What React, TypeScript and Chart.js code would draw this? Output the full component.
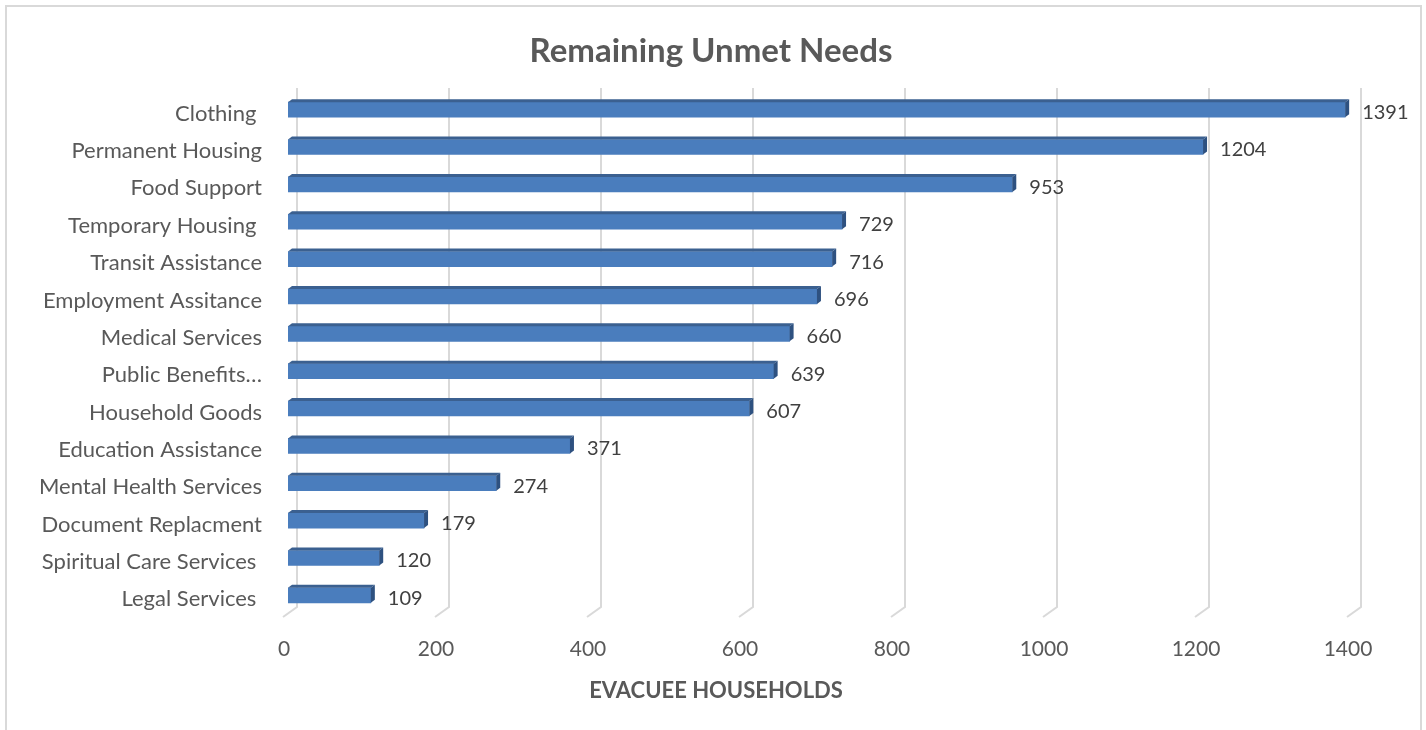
import React, { useEffect, useRef } from "react";
import { Chart, registerables } from "chart.js";

Chart.register(...registerables);

const categories = [
  "Clothing ",
  "Permanent Housing",
  "Food Support",
  "Temporary Housing ",
  "Transit Assistance",
  "Employment Assitance",
  "Medical Services",
  "Public Benefits…",
  "Household Goods",
  "Education Assistance",
  "Mental Health Services",
  "Document Replacment",
  "Spiritual Care Services ",
  "Legal Services ",
];
const values = [1391, 1204, 953, 729, 716, 696, 660, 639, 607, 371, 274, 179, 120, 109];
const xTickValues = [0, 200, 400, 600, 800, 1000, 1200, 1400];
const chartTitle = "Remaining Unmet Needs";
const xAxisTitle = "EVACUEE HOUSEHOLDS";

const FONT = "Lato, 'Open Sans', sans-serif";

const decorPlugin = {
  id: "decor",
  beforeDraw(chart: any) {
    const ctx = chart.ctx;
    ctx.save();
    ctx.fillStyle = "#ffffff";
    ctx.fillRect(0, 0, chart.width, chart.height);
    ctx.strokeStyle = "#d9d9d9";
    ctx.lineWidth = 2;
    ctx.strokeRect(6, 6, 1415, chart.height + 10);
    ctx.restore();
  },
  beforeDatasetsDraw(chart: any) {
    const ctx = chart.ctx;
    const xs = chart.scales.x;
    const area = chart.chartArea;
    ctx.save();
    ctx.strokeStyle = "#d9d9d9";
    ctx.lineWidth = 2;
    xTickValues.forEach((v) => {
      const px = xs.getPixelForValue(v);
      ctx.beginPath();
      ctx.moveTo(px + 9, area.top - 3);
      ctx.lineTo(px + 9, area.bottom - 7);
      ctx.lineTo(px - 5, area.bottom + 3);
      ctx.stroke();
    });
    ctx.restore();
  },
  afterDatasetsDraw(chart: any) {
    const ctx = chart.ctx;
    const meta = chart.getDatasetMeta(0);
    ctx.save();
    meta.data.forEach((bar: any, i: number) => {
      const x0 = bar.base;
      const x1 = bar.x;
      const top = bar.y - bar.height / 2;
      const bottom = bar.y + bar.height / 2;
      const dx = 4;
      const dy = 3;
      ctx.fillStyle = "#3b6090";
      ctx.beginPath();
      ctx.moveTo(x0, top);
      ctx.lineTo(x0 + dx, top - dy);
      ctx.lineTo(x1 + dx, top - dy);
      ctx.lineTo(x1, top);
      ctx.closePath();
      ctx.fill();
      ctx.fillStyle = "#2e5180";
      ctx.beginPath();
      ctx.moveTo(x1, top);
      ctx.lineTo(x1 + dx, top - dy);
      ctx.lineTo(x1 + dx, bottom - dy);
      ctx.lineTo(x1, bottom);
      ctx.closePath();
      ctx.fill();
      ctx.fillStyle = "#404040";
      ctx.font = `20px ${FONT}`;
      ctx.textAlign = "left";
      ctx.textBaseline = "middle";
      ctx.fillText(String(values[i]), x1 + 17, bar.y + 3);
    });
    ctx.restore();
  },
  afterDraw(chart: any) {
    const ctx = chart.ctx;
    ctx.save();
    ctx.fillStyle = "#595959";
    ctx.textAlign = "center";
    ctx.textBaseline = "middle";
    ctx.font = `bold 33px ${FONT}`;
    ctx.fillText(chartTitle, 711, 51);
    ctx.font = `bold 22px ${FONT}`;
    ctx.fillText(xAxisTitle, 716, 691);
    ctx.restore();
  },
};

export default function App() {
  const canvasRef = useRef<HTMLCanvasElement>(null);

  useEffect(() => {
    document.body.style.margin = "0";
    const canvas = canvasRef.current;
    if (!canvas) return;
    const chart = new Chart(canvas, {
      type: "bar",
      data: {
        labels: categories,
        datasets: [
          {
            data: values,
            backgroundColor: "#4a7dbd",
            borderWidth: 0,
            barThickness: 15,
          },
        ],
      },
      options: {
        indexAxis: "y",
        responsive: false,
        animation: false,
        maintainAspectRatio: false,
        layout: { padding: { top: 91, right: 74, left: 0, bottom: 0 } },
        plugins: {
          legend: { display: false },
          title: { display: false },
          tooltip: { enabled: false },
        },
        scales: {
          x: {
            min: 0,
            max: 1400,
            afterFit: (scale: any) => {
              scale.height = 116;
            },
            afterBuildTicks: (scale: any) => {
              scale.ticks = xTickValues.map((v) => ({ value: v }));
            },
            grid: { display: false, drawTicks: false, tickLength: 0 },
            border: { display: false },
            ticks: {
              color: "#595959",
              font: { family: FONT, size: 21 },
              padding: 23,
              labelOffset: -4,
              maxRotation: 0,
              callback: (v: any) => String(v),
            },
          },
          y: {
            afterFit: (scale: any) => {
              scale.width = 288;
            },
            grid: { display: false, drawTicks: false, tickLength: 0 },
            border: { display: false },
            ticks: {
              color: "#595959",
              font: { family: FONT, size: 22 },
              padding: 26,
              labelOffset: 4,
              autoSkip: false,
            },
          },
        },
      },
      plugins: [decorPlugin],
    } as any);
    return () => chart.destroy();
  }, []);

  return (
    <div style={{ position: "absolute", left: 0, top: 0, width: 1426, height: 730 }}>
      <canvas ref={canvasRef} width={1426} height={730} style={{ width: 1426, height: 730, display: "block" }} />
    </div>
  );
}
